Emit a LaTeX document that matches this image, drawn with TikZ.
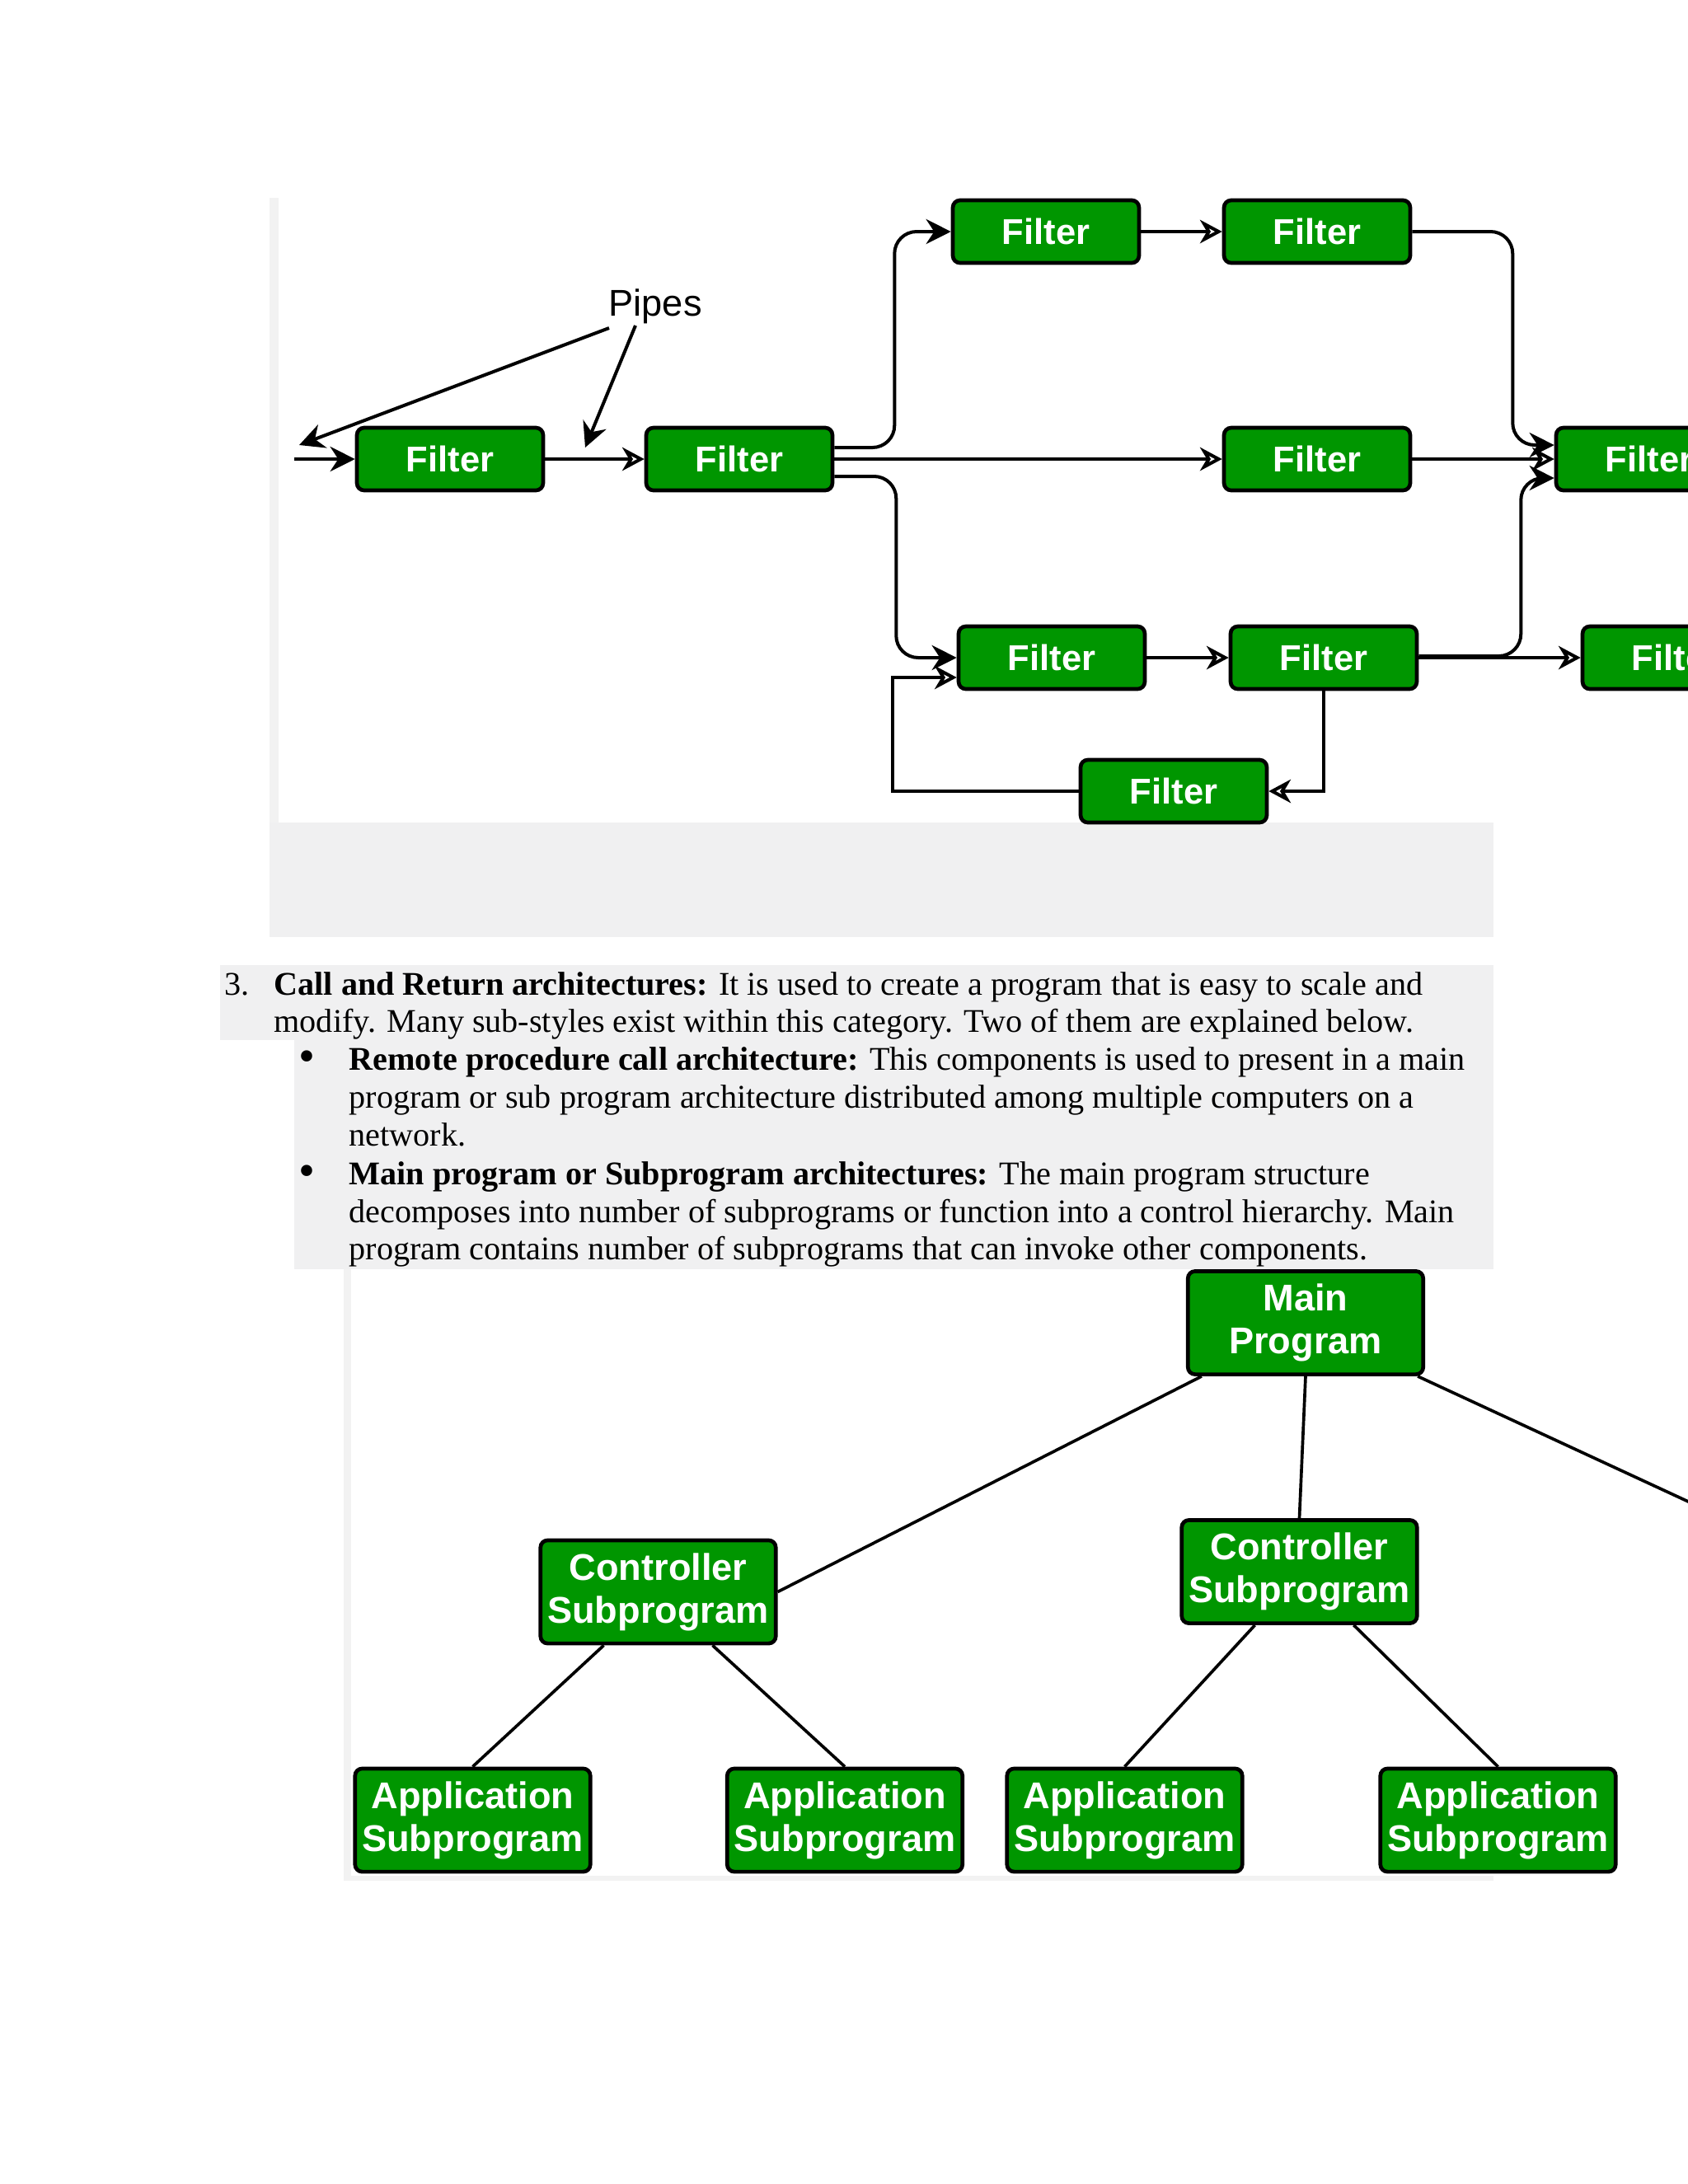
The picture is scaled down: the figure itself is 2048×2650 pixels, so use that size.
\documentclass[tikz,border=0pt]{standalone}
\usepackage{fontspec}
\setmainfont{Liberation Serif}
\newfontfamily\boxfont{Liberation Sans}
\usetikzlibrary{arrows.meta,calc}
\definecolor{ggreen}{RGB}{0,150,0}
\definecolor{bandgray}{RGB}{240,240,241}
\definecolor{linegray}{RGB}{242,242,242}
\begin{document}
\begin{tikzpicture}[x=0.298828pt,y=-0.298828pt,
  filt/.style={draw=black, line width=1.4pt, fill=ggreen, rounded corners=2.6pt,
    minimum width=67.5pt, minimum height=22.7pt, inner sep=0pt, text=white,
    font=\boxfont\bfseries\fontsize{13}{15}\selectfont},
  prog/.style={draw=black, line width=1.4pt, fill=ggreen, rounded corners=2.6pt,
    minimum width=85.3pt, minimum height=37.4pt, inner sep=0pt, text=white, align=center,
    font=\boxfont\bfseries\fontsize{13.5}{15.5}\selectfont},
  pipe/.style={draw=black, line width=1.2pt},
  fwd/.style={pipe, -{Stealth[length=9pt,width=9pt]}},
  fwdopen/.style={pipe, -{Stealth[open,length=8pt,width=8.5pt,inset=2.5pt]}},
  tie/.style={draw=black, line width=1.1pt},
  txt/.style={anchor=base west, inner sep=0pt, font=\fontsize{12}{14}\selectfont},
  pipeslbl/.style={anchor=base west, inner sep=0pt, font=\boxfont\fontsize{13.5}{15}\selectfont}
]
\useasboundingbox (0,0) rectangle (2048,2650);
\fill[white] (0,0) rectangle (2048,2650);
% background bands
\fill[linegray] (327,240) rectangle (338,998);
\fill[bandgray] (327,998) rectangle (1812,1137);
\fill[bandgray] (267,1171) rectangle (1812,1262);
\fill[bandgray] (357,1262) rectangle (1812,1540);
\fill[linegray] (417,1540) rectangle (426,2282);
\fill[linegray] (417,2276) rectangle (1812,2282);

% ---------- pipes and filters ----------
\node[filt] (F1) at (546,557) {Filter};
\node[filt] (F2) at (897,557) {Filter};
\node[filt] (F3) at (1269,281) {Filter};
\node[filt] (F4) at (1598,281) {Filter};
\node[filt] (F5) at (1598,557) {Filter};
\node[filt] (F6) at (2001,557) {Filter};
\node[filt] (F7) at (1276,798) {Filter};
\node[filt] (F8) at (1606,798) {Filter};
\node[filt] (F9) at (2033,798) {Filter};
\node[filt] (F10) at (1424,960) {Filter};

\node[pipeslbl] (pipes) at (738,383) {Pipes};
\coordinate (in) at (357,557);
\coordinate (ps1) at (739,398);
\coordinate (pe1) at (363,540);
\coordinate (ps2) at (771,395);
\coordinate (pe2) at (710,543);

\draw[fwd] (in) -- (F1.west);
\draw[fwd] (ps1) -- (pe1);
\draw[fwd] (ps2) -- (pe2);
\draw[fwdopen] (F1) -- (F2);
\draw[fwd, rounded corners=8] ($(F2.east)+(0,-14)$) -- ++(73,0) |- (F3.west);
\draw[fwdopen] (F3) -- (F4);
\draw[fwd, rounded corners=8] (F4.east) -- ++(122,0) |- ($(F6.west)+(0,-17)$);
\draw[fwdopen] (F2) -- (F5);
\draw[fwdopen] (F5) -- (F6);
\draw[fwd, rounded corners=8] ($(F2.east)+(0,21)$) -- ++(75,0) |- (F7.west);
\draw[fwdopen] (F7) -- (F8);
\draw[fwdopen] (F8) -- (F9);
\draw[fwd, rounded corners=8] ($(F8.east)+(0,-2)$) -- ++(124,0) |- ($(F6.west)+(0,23)$);
\draw[fwdopen] (F8.south) |- (F10.east);
\draw[fwdopen] (F10.west) -| ($(F7.west)+(-78,24)$) -- ($(F7.west)+(0,24)$);

% ---------- text ----------
\node[txt] (n3) at (272,1207) {3.};
\node[txt] (t1) at (332,1207) {\textbf{Call and Return architectures:} It is used to create a program that is easy to scale and};
\node[txt] (t2) at (332,1252) {modify. Many sub-styles exist within this category. Two of them are explained below.};
\node[txt, font=\fontsize{17}{17}\selectfont] (b1) at (362,1300) {•};
\node[txt] (t3) at (423,1298) {\textbf{Remote procedure call architecture:} This components is used to present in a main};
\node[txt] (t4) at (423,1344) {program or sub program architecture distributed among multiple computers on a};
\node[txt] (t5) at (423,1390) {network.};
\node[txt, font=\fontsize{17}{17}\selectfont] (b2) at (362,1439) {•};
\node[txt] (t6) at (423,1437) {\textbf{Main program or Subprogram architectures:} The main program structure};
\node[txt] (t7) at (423,1483) {decomposes into number of subprograms or function into a control hierarchy. Main};
\node[txt] (t8) at (423,1528) {program contains number of subprograms that can invoke other components.};

% ---------- main program / subprogram ----------
\node[prog] (Main) at (1584,1605) {Main\\Program};
\node[prog] (CtrlL) at (798.5,1931.5) {Controller\\Subprogram};
\node[prog] (CtrlR) at (1576.5,1907) {Controller\\Subprogram};
\node[prog] (App1) at (573.5,2208.5) {Application\\Subprogram};
\node[prog] (App2) at (1025,2208.5) {Application\\Subprogram};
\node[prog] (App3) at (1364.5,2208.5) {Application\\Subprogram};
\node[prog] (App4) at (1817.5,2208.5) {Application\\Subprogram};
\coordinate (off) at (2070,1832);

\draw[tie] ($(Main.south west)+(19,0)$) -- (CtrlL.east);
\draw[tie] (Main.south) -- (CtrlR.north);
\draw[tie] ($(Main.south east)+(-9,0)$) -- (off);
\draw[tie] ($(CtrlL.south)+(-66,0)$) -- (App1.north);
\draw[tie] ($(CtrlL.south)+(66,0)$) -- (App2.north);
\draw[tie] ($(CtrlR.south)+(-54,0)$) -- (App3.north);
\draw[tie] ($(CtrlR.south)+(66,0)$) -- (App4.north);
\end{tikzpicture}
\end{document}
